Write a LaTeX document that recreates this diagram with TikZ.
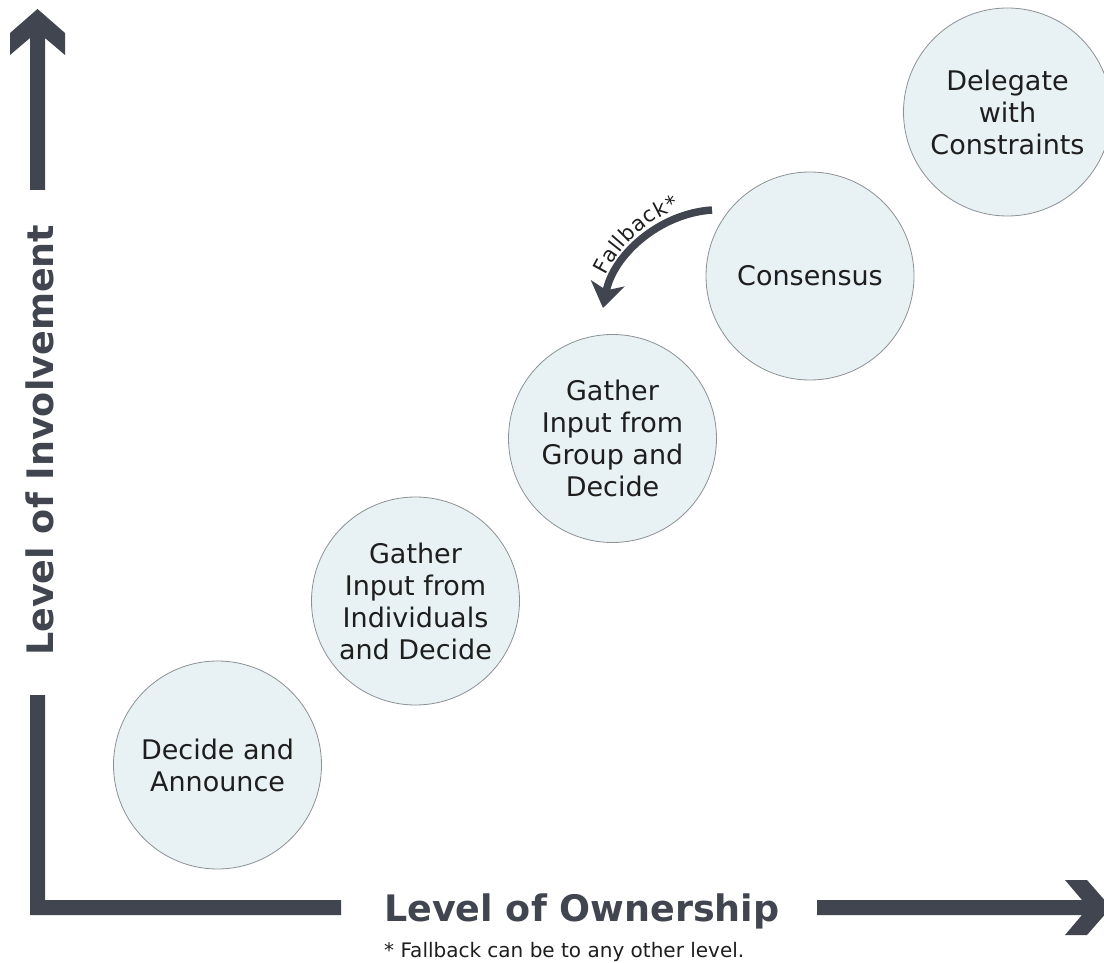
\documentclass[tikz,border=0pt]{standalone}
\usepackage{fontspec}
\setmainfont{DejaVu Sans}
\usetikzlibrary{arrows.meta,decorations.text}
\definecolor{axiscol}{HTML}{41454F}
\definecolor{circfill}{HTML}{E8F2F4}
\definecolor{circline}{HTML}{8C9196}
\definecolor{txt}{HTML}{1E1E1E}
\begin{document}
\begin{tikzpicture}[x=1pt,y=-1pt,
  level/.style={circle, draw=circline, line width=0.8pt, fill=circfill,
    minimum size=208pt, inner sep=0pt, align=center, text=txt,
    font=\fontsize{27}{32}\selectfont},
  axislabel/.style={text=axiscol, inner sep=0pt},
  fbarrow/.style={draw=axiscol, line width=7.5pt,
    -{Stealth[length=25pt,width=34pt,inset=7pt]}}]
\useasboundingbox (0,0) rectangle (1104,963);
\fill[white] (0,0) rectangle (1104,963);

% vertical axis (top part with arrow head)
\fill[axiscol] (37.5,9) -- (65,33) -- (65,55) -- (45,38) -- (45,190) -- (30,190)
  -- (30,38) -- (10,55) -- (10,33) -- cycle;
% corner L
\fill[axiscol] (30,695) -- (45,695) -- (45,900) -- (341,900) -- (341,915) -- (30,915) -- cycle;
% horizontal axis (right part with arrow head)
\fill[axiscol] (817,900) -- (1082,900) -- (1065,880) -- (1087,880) -- (1111,907.5)
  -- (1087,935) -- (1065,935) -- (1082,915) -- (817,915) -- cycle;

% axis labels
\node[axislabel, anchor=base west, font=\fontsize{36.5}{44}\selectfont\bfseries]
  (own) at (384,921) {Level of Ownership};
\node[axislabel, anchor=base west, rotate=90, font=\fontsize{36.5}{44}\selectfont\bfseries]
  (inv) at (53,656) {Level of Involvement};
\node[anchor=base west, inner sep=0pt, text=txt, font=\fontsize{20}{24}\selectfont]
  (note) at (384,957) {* Fallback can be to any other level.};

% levels
\node[level] (da) at (217.5,765) {Decide and\\Announce};
\node[level] (gi) at (415.5,601) {Gather\\Input from\\Individuals\\and Decide};
\node[level] (gg) at (612.5,438.5) {Gather\\Input from\\Group and\\Decide};
\node[level] (cs) at (810,276) {Consensus};
\node[level] (dc) at (1007.5,112) {Delegate\\with\\Constraints};

% fallback arrow
\coordinate (fbs) at (712,210);
\coordinate (fbe) at (603,308);
\draw[fbarrow] (fbs) .. controls (659,213.5) and (613,255.5) .. (fbe);
\path[decorate, decoration={text along path, text align=center, raise=8pt,
  text={|\fontsize{21}{24}\selectfont\color{txt}|Fallback*}}]
  (fbe) .. controls (613,255.5) and (659,213.5) .. (fbs);
\end{tikzpicture}
\end{document}
